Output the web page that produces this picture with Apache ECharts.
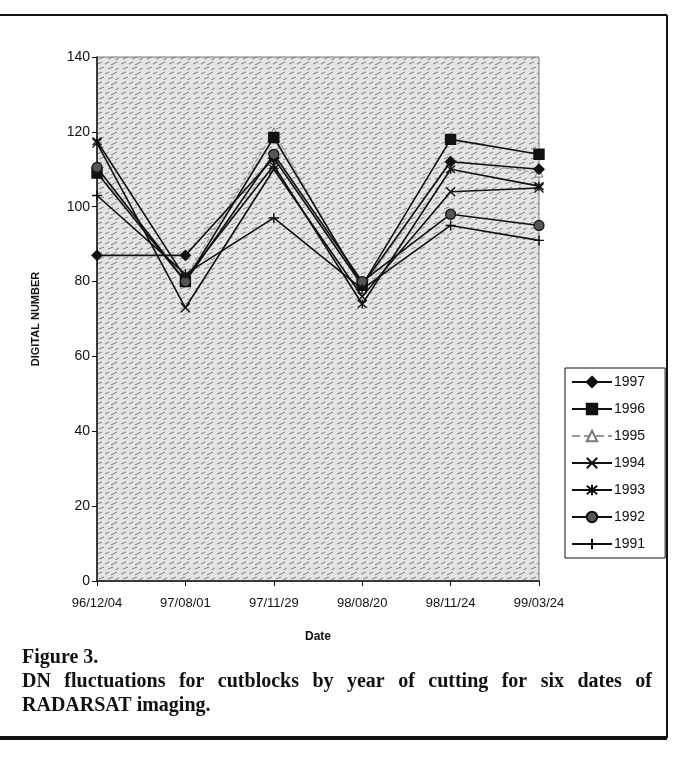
<!DOCTYPE html>
<html>
<head>
<meta charset="utf-8">
<script src="https://cdn.jsdelivr.net/npm/echarts@6/dist/echarts.min.js"></script>
<style>
  html, body { margin: 0; padding: 0; background: #fff; }
  #main { width: 675px; height: 764px; }
</style>
</head>
<body>
<div id="main"></div>
<script>
// dates of RADARSAT imaging
var dates = ['96/12/04', '97/08/01', '97/11/29', '98/08/20', '98/11/24', '99/03/24'];
var yTicks = [0, 20, 40, 60, 80, 100, 120, 140];

// DN by year of cutting
var y1997 = [87, 87, 113, 79, 112, 110];
var y1996 = [109, 80, 118.5, 79, 118, 114];
var y1995 = [109.5, 81, 120, 78, 112.5, 109];
var y1994 = [117, 73, 110, 76, 104, 105];
var y1993 = [117.5, 81, 111, 74, 110, 105.5];
var y1992 = [110.5, 80, 114, 80, 98, 95];
var y1991 = [103, 82, 97, 78, 95, 91];

var captionTitle = 'Figure 3.';
var captionLines = [
    'DN fluctuations for cutblocks by year of cutting for six dates of',
    'RADARSAT imaging.'
];

function makePattern(){
    var c = document.createElement('canvas');
    c.width = 24; c.height = 10;
    var ctx = c.getContext('2d');
    ctx.fillStyle = '#e4e4e4';
    ctx.fillRect(0, 0, 24, 10);
    ctx.strokeStyle = '#7e7e7e';
    ctx.lineWidth = 1;
    var segs = [[1,4,6,2],[9,4,13,2],[15,5,21,2],[3,9,8,7],[12,9,17,7],[19,10,23,8]];
    segs.forEach(function(s){
        ctx.beginPath(); ctx.moveTo(s[0], s[1]); ctx.lineTo(s[2], s[3]); ctx.stroke();
    });
    return c;
}

var symX = 'path://M0,0L10,10M10,0L0,10';
var symStar = 'path://M0,0L10,10M10,0L0,10M5,-1L5,11';
var symPlus = 'path://M5,0L5,10M0,5L10,5';

function lineSeries(name, data, symbol, size, opts){
    var s = {
        name: name,
        type: 'line',
        data: data,
        symbol: symbol,
        symbolSize: size,
        lineStyle: { color: '#111', width: 1.6 },
        itemStyle: { color: '#111', borderColor: '#111', borderWidth: 1.4 },
        z: 3
    };
    if (opts) {
        for (var k in opts) s[k] = opts[k];
    }
    return s;
}

function justifiedLine(text, left, right, top, font, justify){
    var ctx = document.createElement('canvas').getContext('2d');
    ctx.font = font;
    var words = text.split(' ');
    var total = 0;
    words.forEach(function(w){ total += ctx.measureText(w).width; });
    var gap = justify && words.length > 1 ? (right - left - total) / (words.length - 1) : ctx.measureText(' ').width;
    var x = left, out = [];
    words.forEach(function(w){
        out.push({ type: 'text', left: x, top: top, style: { text: w, font: font, fill: '#111' } });
        x += ctx.measureText(w).width + gap;
    });
    return out;
}

var captionFont = 'bold 20px "Liberation Serif", "DejaVu Serif", serif';
var graphics = [
    { type: 'line', shape: { x1: 0, y1: 15, x2: 667, y2: 15 }, style: { stroke: '#111', lineWidth: 2 } },
    { type: 'line', shape: { x1: 667, y1: 15, x2: 667, y2: 738 }, style: { stroke: '#111', lineWidth: 2 } },
    { type: 'line', shape: { x1: 0, y1: 738, x2: 667, y2: 738 }, style: { stroke: '#111', lineWidth: 4 } },
    { type: 'text', left: 22, top: 648, style: { text: captionTitle, font: captionFont, fill: '#111' } }
];
graphics = graphics.concat(justifiedLine(captionLines[0], 22, 652, 672, captionFont, true));
graphics = graphics.concat(justifiedLine(captionLines[1], 22, 652, 696, captionFont, false));

var chart = echarts.init(document.getElementById('main'), null, { renderer: 'canvas' });
var option = {
    backgroundColor: '#fff',
    animation: false,
    textStyle: { fontFamily: 'Arial, "Liberation Sans", sans-serif' },
    grid: {
        left: 97, right: 136, top: 57, bottom: 183,
        show: true,
        backgroundColor: { image: makePattern(), repeat: 'repeat' },
        borderColor: '#777',
        borderWidth: 1
    },
    legend: {
        orient: 'vertical',
        left: 565, top: 368,
        width: 100,
        padding: [7, 20, 7, 6],
        itemGap: 13,
        itemWidth: 40,
        itemHeight: 13,
        backgroundColor: '#fff',
        borderColor: '#111',
        borderWidth: 1,
        borderRadius: 0,
        textStyle: { fontSize: 14, color: '#111', fontFamily: 'Arial, "Liberation Sans", sans-serif', padding: [0, 0, 0, -3] },
        data: ['1997', '1996', '1995', '1994', '1993', '1992', '1991']
    },
    xAxis: {
        type: 'category',
        data: dates,
        boundaryGap: false,
        axisLine: { lineStyle: { color: '#111', width: 1.5 } },
        axisTick: { show: true, length: 5, lineStyle: { color: '#111' } },
        axisLabel: { color: '#111', fontSize: 13, margin: 16 },
        splitLine: { show: false },
        name: 'Date',
        nameLocation: 'middle',
        nameGap: 50,
        nameTextStyle: { fontWeight: 'bold', fontSize: 12, color: '#111' }
    },
    yAxis: {
        type: 'value',
        min: 0, max: 140, interval: 20,
        axisLine: { show: true, lineStyle: { color: '#111', width: 1.5 } },
        axisTick: { show: true, length: 5, lineStyle: { color: '#111' } },
        axisLabel: {
            color: '#111', fontSize: 14, margin: 7,
            formatter: function(v){ return yTicks.indexOf(v) >= 0 ? String(v) : ''; }
        },
        splitLine: { show: false },
        name: 'DIGITAL NUMBER',
        nameLocation: 'middle',
        nameGap: 56,
        nameTextStyle: { fontWeight: 'bold', fontSize: 11, color: '#111' }
    },
    graphic: graphics,
    series: [
        lineSeries('1997', y1997, 'diamond', 10),
        lineSeries('1996', y1996, 'rect', 10),
        lineSeries('1995', y1995, 'triangle', 8, {
            lineStyle: { color: '#9a9a9a', width: 1.2, type: 'dashed' },
            itemStyle: { color: '#fff', borderColor: '#777', borderWidth: 1 },
            z: 2
        }),
        lineSeries('1994', y1994, symX, 9),
        lineSeries('1993', y1993, symStar, 9),
        lineSeries('1992', y1992, 'circle', 10, {
            itemStyle: { color: '#555', borderColor: '#111', borderWidth: 1.2 }
        }),
        lineSeries('1991', y1991, symPlus, 10)
    ]
};
chart.setOption(option);
</script>
</body>
</html>
